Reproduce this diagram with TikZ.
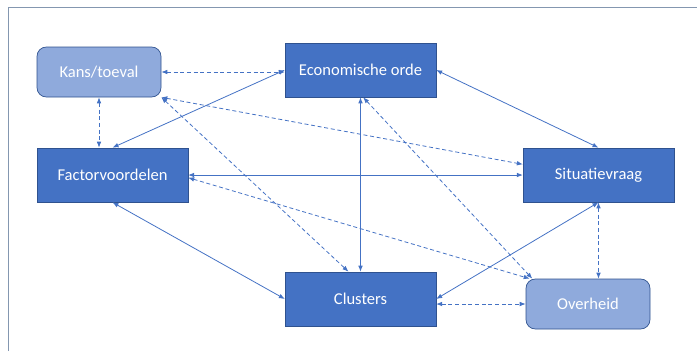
\documentclass[tikz,border=0pt]{standalone}
\usepackage{fontspec}
\setmainfont{Carlito}
\usepackage{tikz}
\usetikzlibrary{arrows.meta,positioning}
\usepackage{xcolor}
\definecolor{darkblue}{HTML}{4472C4}
\definecolor{lightblue}{HTML}{8FAADC}
\definecolor{edgeblue}{HTML}{2F528F}
\definecolor{framegray}{HTML}{8497B0}

\begin{document}
\begin{tikzpicture}[x=0.75pt,y=-0.75pt,>={Latex[length=4.5pt,width=3.5pt]},
  box/.style={draw=edgeblue, line width=0.5pt, fill=darkblue, text=white, minimum width=113pt, minimum height=40.5pt, font=\fontsize{12.4}{15}\selectfont},
  softbox/.style={box, fill=lightblue, rounded corners=7pt, minimum width=93pt, minimum height=37.5pt},
  link/.style={<->, draw=darkblue, line width=0.6pt},
  dlink/.style={link, dash pattern=on 3pt off 2pt}]
\useasboundingbox (0,0) rectangle (697,351);
\draw[framegray, line width=0.75pt] (8,351) -- (8,7) -- (697,7);
\node[softbox] (kans) at (99,72) {Kans/toeval};
\node[box] (econ) at (360.5,70) {Economische orde};
\node[box] (factor) at (112.5,175) {Factorvoordelen};
\node[box] (situatie) at (598.5,175) {Situatievraag};
\node[box] (clusters) at (360.5,299) {Clusters};
\node[softbox] (overheid) at (588,304) {Overheid};
\draw[dlink] (kans.east) -- (kans.east -| econ.west);
\draw[dlink] (kans.south) -- (kans.south |- factor.north);
\draw[link] (econ.west) -- (factor.north);
\draw[dlink] (kans.south east) -- ([yshift=8pt]situatie.west);
\draw[dlink] (kans.south east) -- ([xshift=-9pt]clusters.north);
\draw[link] (econ.south) -- (clusters.north);
\draw[dlink] ([xshift=2pt]econ.south) -- ([xshift=5pt]overheid.north west);
\draw[link] (econ.east) -- (situatie.north);
\draw[link] (factor.east) -- (situatie.west);
\draw[dlink] ([yshift=-2pt]factor.east) -- ([xshift=3pt]overheid.north west);
\draw[link] (factor.south) -- (clusters.west);
\draw[link] (situatie.south) -- (clusters.east);
\draw[dlink] (situatie.south) -- (situatie.south |- overheid.north);
\draw[dlink] (overheid.west -| clusters.east) -- (overheid.west);
\end{tikzpicture}
\end{document}
